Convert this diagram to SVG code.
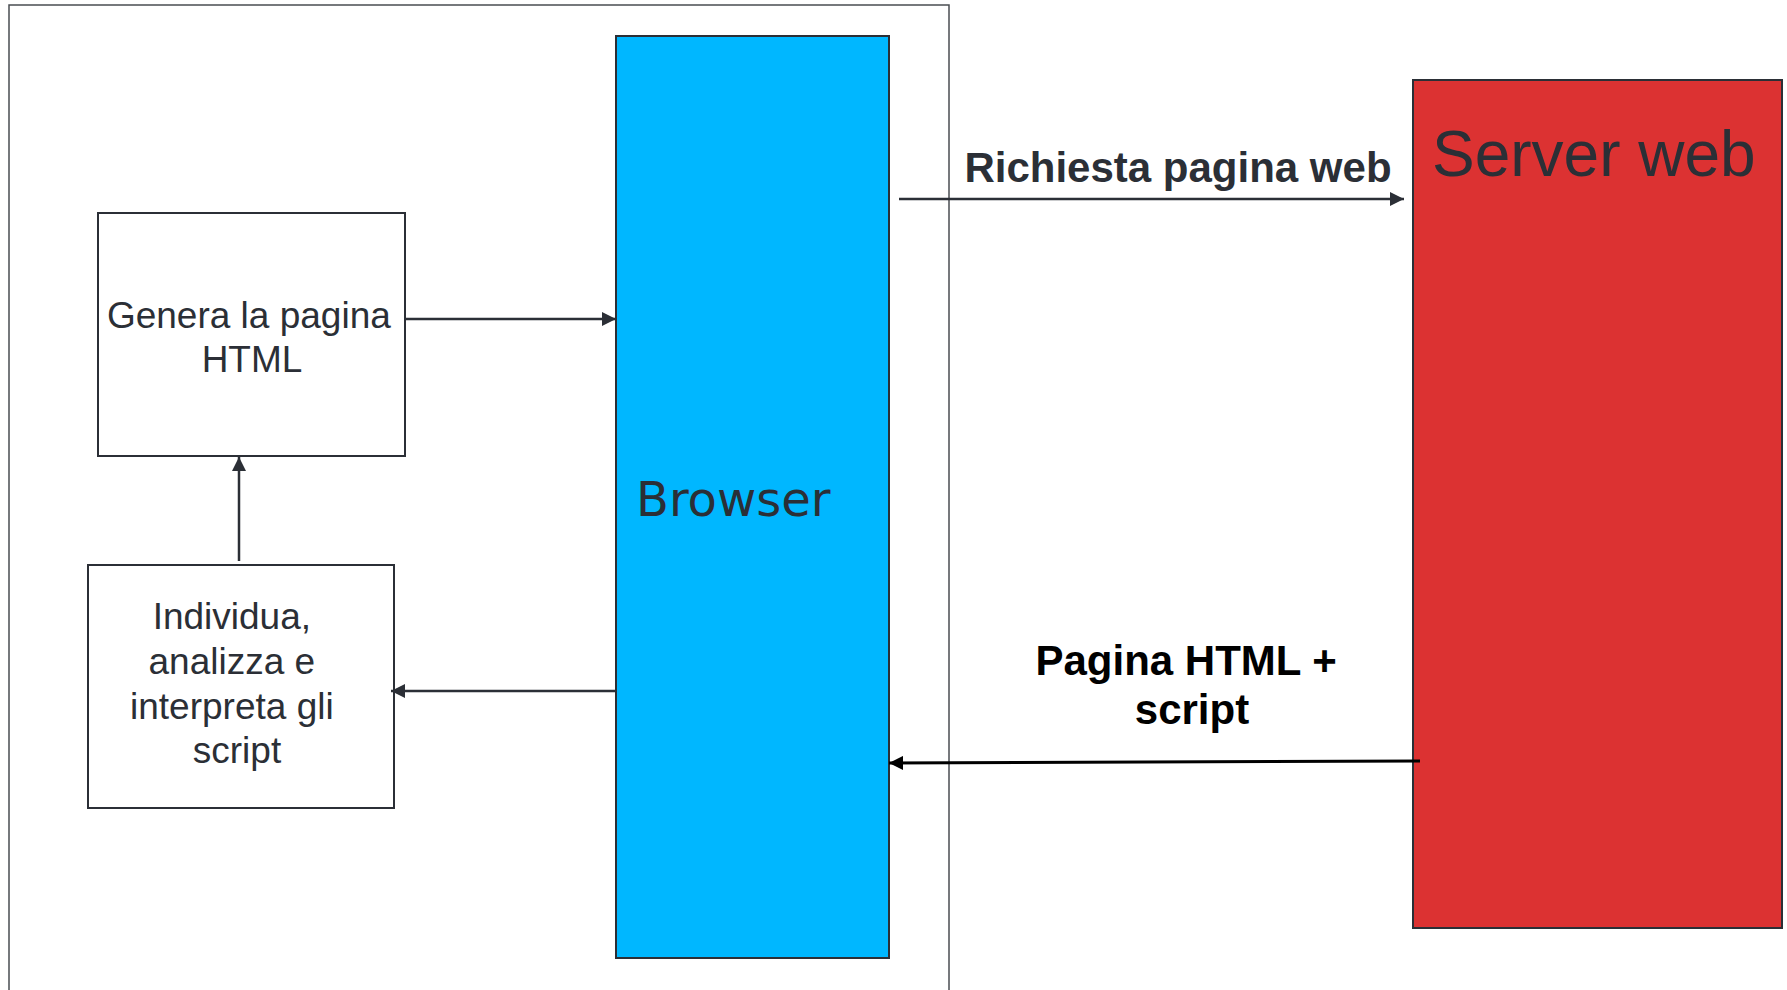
<svg xmlns="http://www.w3.org/2000/svg" width="1787" height="990" viewBox="0 0 1787 990">
  <style>
    .box { fill: #ffffff; stroke: #2b2f36; stroke-width: 2; }
    .lbl { font-family: "Liberation Sans", Arial, sans-serif; fill: #2b2f36; }
    .edge { fill: none; stroke: #2b2f36; stroke-width: 2.5; }
    .bold { font-weight: bold; font-size: 42px; text-anchor: middle; }
  </style>
  <defs>
    <marker id="arr" viewBox="0 0 14 14" refX="14" refY="7" markerWidth="14" markerHeight="14" markerUnits="userSpaceOnUse" orient="auto">
      <path d="M0,0 L14,7 L0,14 Z" fill="#2b2f36"/>
    </marker>
    <marker id="arrBlack" viewBox="0 0 14 14" refX="14" refY="7" markerWidth="14" markerHeight="14" markerUnits="userSpaceOnUse" orient="auto">
      <path d="M0,0 L14,7 L0,14 Z" fill="#000000"/>
    </marker>
  </defs>

  <rect width="1787" height="990" fill="#ffffff"/>

  <!-- client-side container -->
  <g id="client">
    <rect x="9" y="5" width="940" height="1000" fill="none" stroke="#4a4d52" stroke-width="1.5"/>
  </g>

  <g id="browser">
    <rect x="616" y="36" width="273" height="922" fill="#00b7ff" stroke="#2b2f36" stroke-width="2"/>
    <text x="636" y="516" font-family="DejaVu Sans, Verdana, sans-serif" font-size="48" fill="#2b2f36">Browser</text>
  </g>

  <g id="genera">
    <rect class="box" x="98" y="213" width="307" height="243"/>
    <text class="lbl" font-size="37" text-anchor="middle">
      <tspan x="254" y="328">Genera la pagina</tspan>
      <tspan x="252" y="372">HTML</tspan>
    </text>
  </g>

  <g id="individua">
    <rect class="box" x="88" y="565" width="306" height="243"/>
    <text class="lbl" font-size="37" text-anchor="middle">
      <tspan x="237" y="629">Individua,</tspan>
      <tspan x="237" y="674">analizza e</tspan>
      <tspan x="237" y="719">interpreta gli</tspan>
      <tspan x="237" y="763">script</tspan>
    </text>
  </g>

  <g id="server">
    <rect x="1413" y="80" width="369" height="848" fill="#dc3232" stroke="#2b2f36" stroke-width="2"/>
    <text class="lbl" x="1432" y="176" font-size="64">Server web</text>
  </g>

  <g id="connectors">
    <line class="edge" x1="405" y1="319" x2="616" y2="319" marker-end="url(#arr)"/>
    <line class="edge" x1="239" y1="561" x2="239" y2="457" marker-end="url(#arr)"/>
    <line class="edge" x1="616" y1="691" x2="391" y2="691" marker-end="url(#arr)"/>
    <line class="edge" x1="899" y1="199" x2="1404" y2="199" marker-end="url(#arr)"/>
    <line x1="1420" y1="761" x2="889" y2="763" stroke="#000000" stroke-width="3" marker-end="url(#arrBlack)"/>
    <text class="lbl bold" x="1178" y="182">Richiesta pagina web</text>
    <text class="bold" font-family="Liberation Sans, Arial, sans-serif" fill="#000000">
      <tspan x="1192" y="675">Pagina HTML +</tspan>
      <tspan x="1192" y="724">script</tspan>
    </text>
  </g>
</svg>
